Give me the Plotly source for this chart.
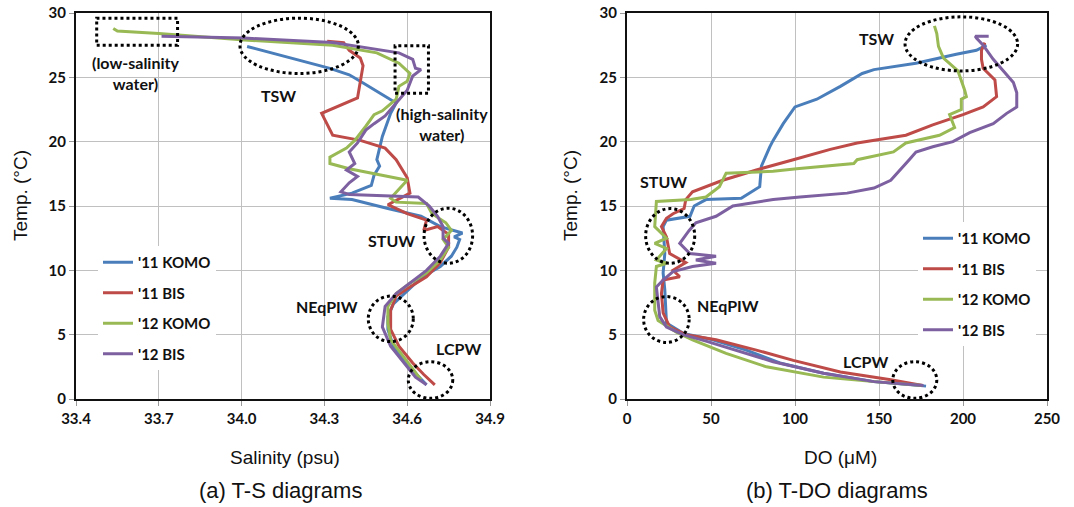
import plotly.graph_objects as go

# ---------------- tick labels ----------------
sal_ticks = [33.4, 33.7, 34.0, 34.3, 34.6, 34.9]
do_ticks = [0, 50, 100, 150, 200, 250]
temp_ticks = [0, 5, 10, 15, 20, 25, 30]

# ---------------- data: T-S diagram ----------------
ts_komo11_s = [34.02, 34.32, 34.39, 34.43, 34.56, 34.54, 34.51, 34.50, 34.49, 34.50, 34.48, 34.47, 34.40, 34.32,
               34.40, 34.53, 34.65, 34.72, 34.78, 34.80, 34.77, 34.79, 34.78, 34.76, 34.72, 34.68, 34.63, 34.59,
               34.55, 34.53, 34.53, 34.55, 34.60, 34.63, 34.67]
ts_komo11_t = [27.4, 25.7, 25.2, 24.7, 23.0, 22.2, 20.4, 19.5, 18.6, 18.1, 17.4, 16.6, 16.0, 15.6,
               15.5, 14.8, 14.2, 13.4, 13.0, 12.9, 12.6, 12.4, 11.8, 11.1, 10.3, 9.8, 9.0, 8.2,
               7.4, 6.4, 5.4, 4.1, 2.8, 2.0, 1.1]

ts_bis11_s = [34.31, 34.37, 34.39, 34.43, 34.44, 34.43, 34.42, 34.29, 34.33, 34.43, 34.52, 34.56, 34.60, 34.61,
              34.53, 34.60, 34.67, 34.66, 34.71, 34.75, 34.75, 34.72, 34.67, 34.61, 34.56, 34.54, 34.54, 34.57,
              34.62, 34.66, 34.70]
ts_bis11_t = [27.8, 27.7, 27.1, 26.5, 25.9, 24.6, 23.4, 22.2, 20.5, 20.1, 19.5, 18.6, 17.2, 16.0,
              15.1, 14.4, 13.9, 13.1, 13.4, 12.8, 11.8, 10.6, 9.5, 8.7, 8.0, 6.9, 5.4, 4.1,
              2.8, 1.9, 1.1]

ts_komo12_s = [33.535, 33.55, 33.70, 34.01, 34.33, 34.49, 34.57, 34.61, 34.60, 34.57, 34.56, 34.51, 34.48, 34.45,
               34.41, 34.38, 34.32, 34.32, 34.39, 34.50, 34.60, 34.54, 34.56, 34.67, 34.69, 34.74, 34.76, 34.73,
               34.75, 34.72, 34.67, 34.61, 34.56, 34.53, 34.53, 34.54, 34.59, 34.63, 34.65]
ts_komo12_t = [28.8, 28.6, 28.4, 27.9, 27.5, 26.9, 26.1, 25.3, 24.7, 24.3, 23.3, 22.4, 22.1, 21.2,
               20.1, 19.5, 18.8, 18.3, 17.9, 17.4, 17.0, 15.6, 15.3, 15.2, 14.4, 13.7, 13.1, 12.4,
               11.8, 10.8, 9.8, 9.0, 8.2, 7.2, 5.9, 4.6, 3.2, 2.1, 1.5]

ts_bis12_s = [33.71, 34.01, 34.33, 34.57, 34.62, 34.63, 34.65, 34.62, 34.60, 34.56, 34.52, 34.48, 34.45, 34.42,
              34.39, 34.41, 34.38, 34.42, 34.39, 34.36, 34.39, 34.64, 34.68, 34.71, 34.73, 34.73, 34.73, 34.75,
              34.72, 34.67, 34.61, 34.56, 34.52, 34.51, 34.54, 34.59, 34.63, 34.67]
ts_bis12_t = [28.2, 28.05, 27.7, 26.9, 26.4, 25.7, 25.6, 25.1, 24.0, 23.0, 22.0, 21.4, 20.9, 19.9,
              19.2, 18.3, 17.8, 17.3, 16.8, 16.1, 15.9, 15.7, 15.0, 14.2, 13.4, 12.9, 12.5, 12.1,
              11.1, 10.0, 9.0, 8.2, 7.2, 5.6, 4.1, 2.8, 1.7, 1.1]

# ---------------- data: T-DO diagram ----------------
do_komo11_do = [214, 208, 196, 172, 147, 140, 127, 113, 100, 93, 87, 85, 80, 79, 68, 54, 47, 40, 37.5, 23.5,
                21.5, 22.5, 21.5, 22.5, 23, 23.5, 33.5, 51, 71, 91, 117, 147, 178]
do_komo11_t = [27.5, 27.1, 26.8, 26.1, 25.6, 25.3, 24.3, 23.3, 22.7, 21.4, 20.1, 19.6, 18.1, 16.5, 15.6, 15.5,
               15.5, 15.0, 14.2, 13.9, 13.4, 11.3, 9.8, 8.5, 6.7, 5.9, 5.1, 4.6, 3.8, 2.8, 2.0, 1.35, 1.0]

do_bis11_do = [213, 211, 211, 212, 219, 220, 212, 200, 182, 166, 137, 121, 99, 77, 57, 39, 35, 34, 27.4, 23.5,
               20.5, 23.5, 25.4, 35, 27.4, 31.4, 21.5, 20.5, 21.5, 25.4, 35, 53, 77, 99, 127, 157, 176]
do_bis11_t = [27.7, 27.1, 26.4, 25.7, 24.8, 23.5, 22.7, 22.1, 21.3, 20.5, 19.9, 19.4, 18.6, 17.8, 17.0, 16.1,
              15.5, 14.8, 14.4, 14.05, 13.4, 12.6, 11.3, 10.6, 10.0, 9.5, 9.25, 8.2, 6.7, 5.6, 5.0, 4.6, 3.8,
              3.0, 2.1, 1.5, 1.05]

do_komo12_do = [183, 184.4, 185.4, 188.4, 197, 199, 201, 202, 199, 199, 192, 195, 186, 166, 158.6, 137, 135, 101,
                87, 59, 55, 47, 38, 17.5, 16.5, 23.5, 16.5, 23.5, 17.5, 23.5, 17.5, 16.5, 16.5, 18.5, 29.4, 39,
                59, 83, 117, 147, 176]
do_komo12_t = [29.0, 28.4, 27.4, 26.5, 25.5, 24.8, 24.0, 23.5, 23.3, 22.5, 22.1, 21.1, 20.5, 19.9, 19.2, 18.6,
               18.3, 17.9, 17.7, 17.55, 16.5, 15.7, 15.5, 15.35, 13.4, 12.5, 12.1, 11.7, 10.8, 10.55, 10.3, 9.0,
               6.9, 6.1, 5.2, 4.6, 3.55, 2.5, 1.7, 1.35, 1.05]

do_bis12_do = [215.3, 207.3, 208, 212, 218, 224, 230, 232, 232, 226, 218, 204, 194, 182, 172, 168, 162.5, 157,
               147, 131, 103, 87, 63, 53, 41, 37, 31.4, 37.4, 53, 41, 53, 39, 27.4, 21.5, 17.5, 18.5, 19.5,
               23.5, 33.4, 47, 67, 87, 117, 147, 176.5]
do_bis12_t = [28.2, 28.2, 28.05, 27.5, 26.4, 25.5, 24.6, 23.8, 22.7, 22.2, 21.4, 20.7, 20.0, 19.6, 19.2, 18.6,
              17.8, 17.0, 16.4, 16.0, 15.7, 15.5, 15.0, 14.2, 13.7, 13.1, 12.1, 11.3, 11.1, 10.8, 10.55, 10.3,
              9.9, 9.25, 8.7, 7.7, 6.4, 5.6, 5.0, 4.5, 3.7, 2.9, 2.0, 1.35, 1.05]

series_names = ["'11 KOMO", "'11 BIS", "'12 KOMO", "'12 BIS"]
series_colors = ["#4a7ebb", "#be4b48", "#98b954", "#7d60a0"]

ts_series = [(ts_komo11_s, ts_komo11_t), (ts_bis11_s, ts_bis11_t),
             (ts_komo12_s, ts_komo12_t), (ts_bis12_s, ts_bis12_t)]
do_series = [(do_komo11_do, do_komo11_t), (do_bis11_do, do_bis11_t),
             (do_komo12_do, do_komo12_t), (do_bis12_do, do_bis12_t)]

# ---------------- annotation regions ----------------
ts_rects = [(33.475, 27.5, 33.768, 29.6), (34.556, 23.77, 34.677, 27.46)]
ts_ellipses = [(33.994, 25.3, 34.423, 29.6), (34.661, 10.55, 34.837, 14.83),
               (34.459, 4.46, 34.622, 8.0), (34.604, 0.05, 34.765, 2.9)]
ts_labels = [("(low-salinity<br>water)", 33.614, 25.3), ("TSW", 34.133, 23.6),
             ("(high-salinity<br>water)", 34.725, 21.4), ("STUW", 34.544, 12.3),
             ("NEqPIW", 34.308, 7.2), ("LCPW", 34.785, 3.9)]
do_ellipses = [(165.5, 25.5, 232.5, 29.7), (11.1, 10.55, 40.3, 14.8),
               (9.9, 4.4, 37.0, 7.96), (158.2, 0.05, 184.4, 2.9)]
do_labels = [("TSW", 148.6, 28.0), ("STUW", 21.9, 16.9), ("NEqPIW", 60.2, 7.3), ("LCPW", 141.7, 2.9)]

BOLD = "Lato"
TICK = "Lato"
REG = "Liberation Sans, Arial, sans-serif"

fig = go.Figure()
for (xs, ys), name, col in zip(ts_series, series_names, series_colors):
    fig.add_trace(go.Scatter(x=xs, y=ys, mode="lines", name=name, legendgroup="a" + name,
                             line=dict(color=col, width=3), xaxis="x", yaxis="y", legend="legend"))
for (xs, ys), name, col in zip(do_series, series_names, series_colors):
    fig.add_trace(go.Scatter(x=xs, y=ys, mode="lines", name=name, legendgroup="b" + name,
                             line=dict(color=col, width=3), xaxis="x2", yaxis="y2", legend="legend2"))

shapes = []
for x0, y0, x1, y1 in ts_rects:
    shapes.append(dict(type="rect", xref="x", yref="y", x0=x0, y0=y0, x1=x1, y1=y1,
                       line=dict(color="black", width=3, dash="dot")))
for x0, y0, x1, y1 in ts_ellipses:
    shapes.append(dict(type="circle", xref="x", yref="y", x0=x0, y0=y0, x1=x1, y1=y1,
                       line=dict(color="black", width=3, dash="dot")))
for x0, y0, x1, y1 in do_ellipses:
    shapes.append(dict(type="circle", xref="x2", yref="y2", x0=x0, y0=y0, x1=x1, y1=y1,
                       line=dict(color="black", width=3, dash="dot")))

annots = []
for txt, x, y in ts_labels:
    annots.append(dict(text="<b>%s</b>" % txt, x=x, y=y, xref="x", yref="y", showarrow=False,
                       xanchor="center", yanchor="middle",
                       font=dict(family=BOLD, size=16, color="#111")))
for txt, x, y in do_labels:
    annots.append(dict(text="<b>%s</b>" % txt, x=x, y=y, xref="x2", yref="y2", showarrow=False,
                       xanchor="center", yanchor="middle",
                       font=dict(family=BOLD, size=16, color="#111")))

W, H = 1074, 507
def px(xp):
    return xp / W
def py(yp):
    return 1 - yp / H

def paper_text(text, x, y, size, angle=0):
    return dict(text=text, x=px(x), y=py(y), xref="paper", yref="paper", showarrow=False,
                xanchor="center", yanchor="middle", textangle=angle,
                font=dict(family=REG, size=size, color="#111"))

annots += [
    paper_text("Salinity (psu)", 285, 457, 19),
    paper_text("DO (\u03bcM)", 840, 457, 19),
    paper_text("Temp. (\u00b0C)", 20, 196, 19, -90),
    paper_text("Temp. (\u00b0C)", 570, 196, 19, -90),
    paper_text("(a) T-S diagrams", 280, 490, 22),
    paper_text("(b) T-DO diagrams", 837, 490, 22),
]

axis_common = dict(showgrid=True, gridcolor="#c0c0c0", gridwidth=1, showline=True, linecolor="#111",
                   linewidth=2, mirror=True, ticks="outside", ticklen=5, tickcolor="#999",
                   zeroline=False, automargin=False,
                   tickfont=dict(family=TICK, size=15, color="#111", weight="bold"))

fig.update_layout(
    width=W, height=H, margin=dict(l=0, r=0, t=0, b=0, autoexpand=False),
    paper_bgcolor="white", plot_bgcolor="white",
    xaxis=dict(domain=[px(76), px(490)], range=[33.4, 34.9], tickvals=sal_ticks,
               ticktext=["{:.1f}".format(v) for v in sal_ticks], anchor="y", **axis_common),
    yaxis=dict(domain=[py(399), py(13)], range=[0, 30], tickvals=temp_ticks,
               ticktext=[str(v) for v in temp_ticks], anchor="x", **axis_common),
    xaxis2=dict(domain=[px(627), px(1047)], range=[0, 250], tickvals=do_ticks,
                ticktext=[str(v) for v in do_ticks], anchor="y2", **axis_common),
    yaxis2=dict(domain=[py(399), py(13)], range=[0, 30], tickvals=temp_ticks,
                ticktext=[str(v) for v in temp_ticks], anchor="x2", **axis_common),
    legend=dict(x=px(98), y=py(246), xanchor="left", yanchor="top", bgcolor="white",
                font=dict(family=BOLD, size=15, color="#111", weight="bold"),
                tracegroupgap=8, traceorder="grouped"),
    legend2=dict(x=px(918), y=py(222), xanchor="left", yanchor="top", bgcolor="white",
                 font=dict(family=BOLD, size=15, color="#111", weight="bold"),
                 tracegroupgap=8, traceorder="grouped"),
    shapes=shapes, annotations=annots, showlegend=True,
)

fig.write_html("out.html")
